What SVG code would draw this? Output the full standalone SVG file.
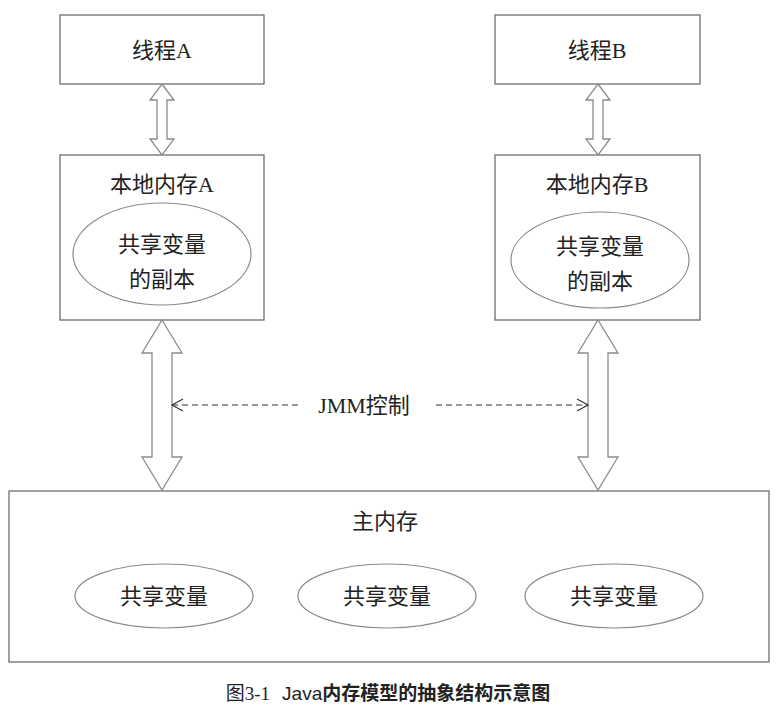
<svg xmlns="http://www.w3.org/2000/svg" width="778" height="710" viewBox="0 0 778 710">
<style>
.box{fill:#fff;stroke:#6e6e6e;stroke-width:1.3}
.ell{fill:#fff;stroke:#8a8a8a;stroke-width:1.2}
.arr{fill:#fff;stroke:#8a8a8a;stroke-width:1.3;stroke-linejoin:miter}
.t{font-family:"Liberation Serif","Noto Sans CJK SC",serif;font-size:22px;fill:#222;text-anchor:middle}
.dash{stroke:#333;stroke-width:1.2;stroke-dasharray:6,4;fill:none}
</style>
<defs>
<marker id="open" markerWidth="14" markerHeight="14" refX="12" refY="7" orient="auto" markerUnits="userSpaceOnUse">
<path d="M1,1 L12,7 L1,13" fill="none" stroke="#333" stroke-width="1.2"/>
</marker>
</defs>
<rect width="778" height="710" fill="#fff"/>
<g id="threadA"><rect class="box" x="60" y="15" width="204" height="69"/><text class="t" x="162" y="58">线程A</text></g>
<g id="threadB"><rect class="box" x="495" y="15" width="205" height="69"/><text class="t" x="597" y="58">线程B</text></g>
<g id="localA"><rect class="box" x="60" y="155" width="204" height="165"/><text class="t" x="162" y="192">本地内存A</text>
<ellipse class="ell" cx="162" cy="254" rx="89" ry="51"/><text class="t" x="162" y="252">共享变量</text><text class="t" x="162" y="287">的副本</text></g>
<g id="localB"><rect class="box" x="495" y="155" width="205" height="165"/><text class="t" x="597" y="192">本地内存B</text>
<ellipse class="ell" cx="600" cy="260" rx="89" ry="48"/><text class="t" x="600" y="254">共享变量</text><text class="t" x="600" y="289">的副本</text></g>
<g id="main"><rect class="box" x="9" y="491" width="760" height="171"/><text class="t" x="385" y="529">主内存</text>
<ellipse class="ell" cx="164" cy="596" rx="89" ry="32"/><text class="t" x="164" y="604">共享变量</text>
<ellipse class="ell" cx="387" cy="596" rx="89" ry="32"/><text class="t" x="387" y="604">共享变量</text>
<ellipse class="ell" cx="614" cy="596" rx="89" ry="32"/><text class="t" x="614" y="604">共享变量</text></g>
<g id="connectors">
<polygon class="arr" points="162,84 174,100 167,100 167,139 174,139 162,155 150,139 157,139 157,100 150,100"/>
<polygon class="arr" points="598,84 610,100 603,100 603,139 610,139 598,155 586,139 593,139 593,100 586,100"/>
<polygon class="arr" points="162,320 182,353 172,353 172,457 182,457 162,490 142,457 152,457 152,353 142,353"/>
<polygon class="arr" points="598,320 618,353 608,353 608,457 618,457 598,490 578,457 588,457 588,353 578,353"/>
<line class="dash" x1="298" y1="405" x2="172" y2="405" marker-end="url(#open)"/>
<line class="dash" x1="436" y1="405" x2="588" y2="405" marker-end="url(#open)"/>
<text class="t" x="364" y="413">JMM控制</text>
</g>
<text x="388" y="700" text-anchor="middle" style="font-size:19px;fill:#222"><tspan font-family="Liberation Serif,Noto Sans CJK SC,serif">图3-1</tspan><tspan font-family="Liberation Sans Narrow,Liberation Sans,Noto Sans CJK SC,sans-serif" dx="12">Java</tspan><tspan font-family="Noto Sans CJK SC,sans-serif" font-weight="bold">内存模型的抽象结构示意图</tspan></text>
</svg>
